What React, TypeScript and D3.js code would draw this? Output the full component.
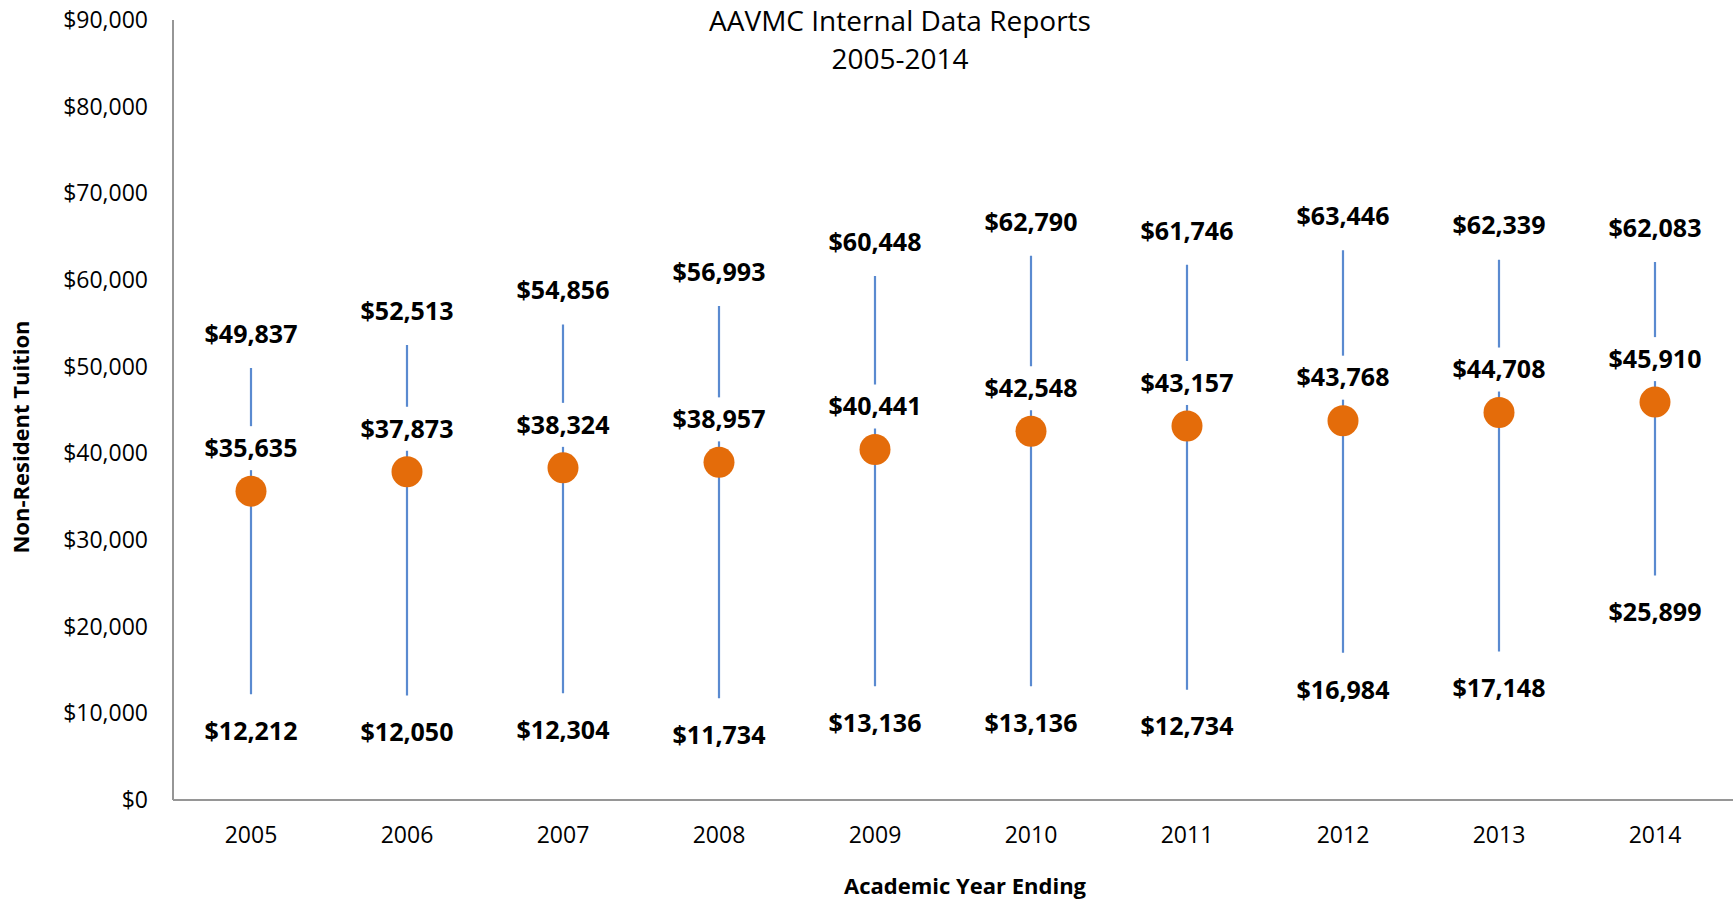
import React from 'react'
import * as d3 from 'd3'

// tuition ranges per academic year (non-resident)
const years = ['2005', '2006', '2007', '2008', '2009', '2010', '2011', '2012', '2013', '2014']
const highs = [49837, 52513, 54856, 56993, 60448, 62790, 61746, 63446, 62339, 62083]
const means = [35635, 37873, 38324, 38957, 40441, 42548, 43157, 43768, 44708, 45910]
const lows = [12212, 12050, 12304, 11734, 13136, 13136, 12734, 16984, 17148, 25899]
const yTicks = [0, 10000, 20000, 30000, 40000, 50000, 60000, 70000, 80000, 90000]

const W = 1733
const H = 900
const font = '"Open Sans", sans-serif'

export default function App() {
  const left = 173
  const right = 1733
  const top = 20
  const bottom = 800

  const x = d3.scaleBand().domain(years).range([left, right])
  const y = d3.scaleLinear().domain([0, 90000]).range([bottom, top])
  const fmt = (v: number) => '$' + d3.format(',')(v)

  const data = years.map((yr, i) => ({ yr, hi: highs[i], mean: means[i], lo: lows[i] }))
  const cx = (yr: string) => (x(yr) as number) + x.bandwidth() / 2

  return (
    <svg width={W} height={H} style={{ position: 'fixed', left: 0, top: 0, background: '#fff' }}
      fontFamily={font}>
      <rect width={W} height={H} fill="#fff" />

      {/* title */}
      <text x={900} y={21} textAnchor="middle" dy="0.35em" fontSize={28} fill="#000">AAVMC Internal Data Reports</text>
      <text x={900} y={59} textAnchor="middle" dy="0.35em" fontSize={28} fill="#000">2005-2014</text>

      {/* y tick labels */}
      {yTicks.map(t => (
        <text key={t} x={148} y={y(t)} dy="0.35em" textAnchor="end" fontSize={23} fill="#000">{fmt(t)}</text>
      ))}

      {/* x tick labels */}
      {years.map(yr => (
        <text key={yr} x={cx(yr)} y={835} dy="0.35em" textAnchor="middle" fontSize={23} fill="#000">{yr}</text>
      ))}

      {/* axis titles */}
      <text x={965} y={886} dy="0.35em" textAnchor="middle" fontSize={22} fontWeight="bold">Academic Year Ending</text>
      <text transform={`translate(21,437) rotate(-90)`} dy="0.35em" textAnchor="middle" fontSize={22} fontWeight="bold">Non-Resident Tuition</text>

      {/* high-low lines */}
      {data.map(d => (
        <line key={'l' + d.yr} x1={cx(d.yr)} x2={cx(d.yr)} y1={y(d.lo)} y2={y(d.hi)} stroke="#5A8AD0" strokeWidth={2.2} />
      ))}

      {/* mean labels with white background over the line */}
      {data.map(d => (
        <g key={'m' + d.yr}>
          <rect x={cx(d.yr) - 50} y={y(d.mean) - 65} width={100} height={44} fill="#fff" />
          <text x={cx(d.yr)} y={y(d.mean) - 43} dy="0.35em" textAnchor="middle" fontSize={25} fontWeight="bold">{fmt(d.mean)}</text>
        </g>
      ))}

      {/* mean points */}
      {data.map(d => (
        <circle key={'c' + d.yr} cx={cx(d.yr)} cy={y(d.mean)} r={15.5} fill="#E46C0A" />
      ))}

      {/* high / low labels */}
      {data.map(d => (
        <g key={'hl' + d.yr}>
          <text x={cx(d.yr)} y={y(d.hi) - 34} dy="0.35em" textAnchor="middle" fontSize={25} fontWeight="bold">{fmt(d.hi)}</text>
          <text x={cx(d.yr)} y={y(d.lo) + 37} dy="0.35em" textAnchor="middle" fontSize={25} fontWeight="bold">{fmt(d.lo)}</text>
        </g>
      ))}

      {/* axes */}
      <line x1={left} x2={left} y1={top} y2={bottom} stroke="#969696" strokeWidth={2} />
      <line x1={left} x2={right} y1={bottom} y2={bottom} stroke="#969696" strokeWidth={2} />
    </svg>
  )
}
